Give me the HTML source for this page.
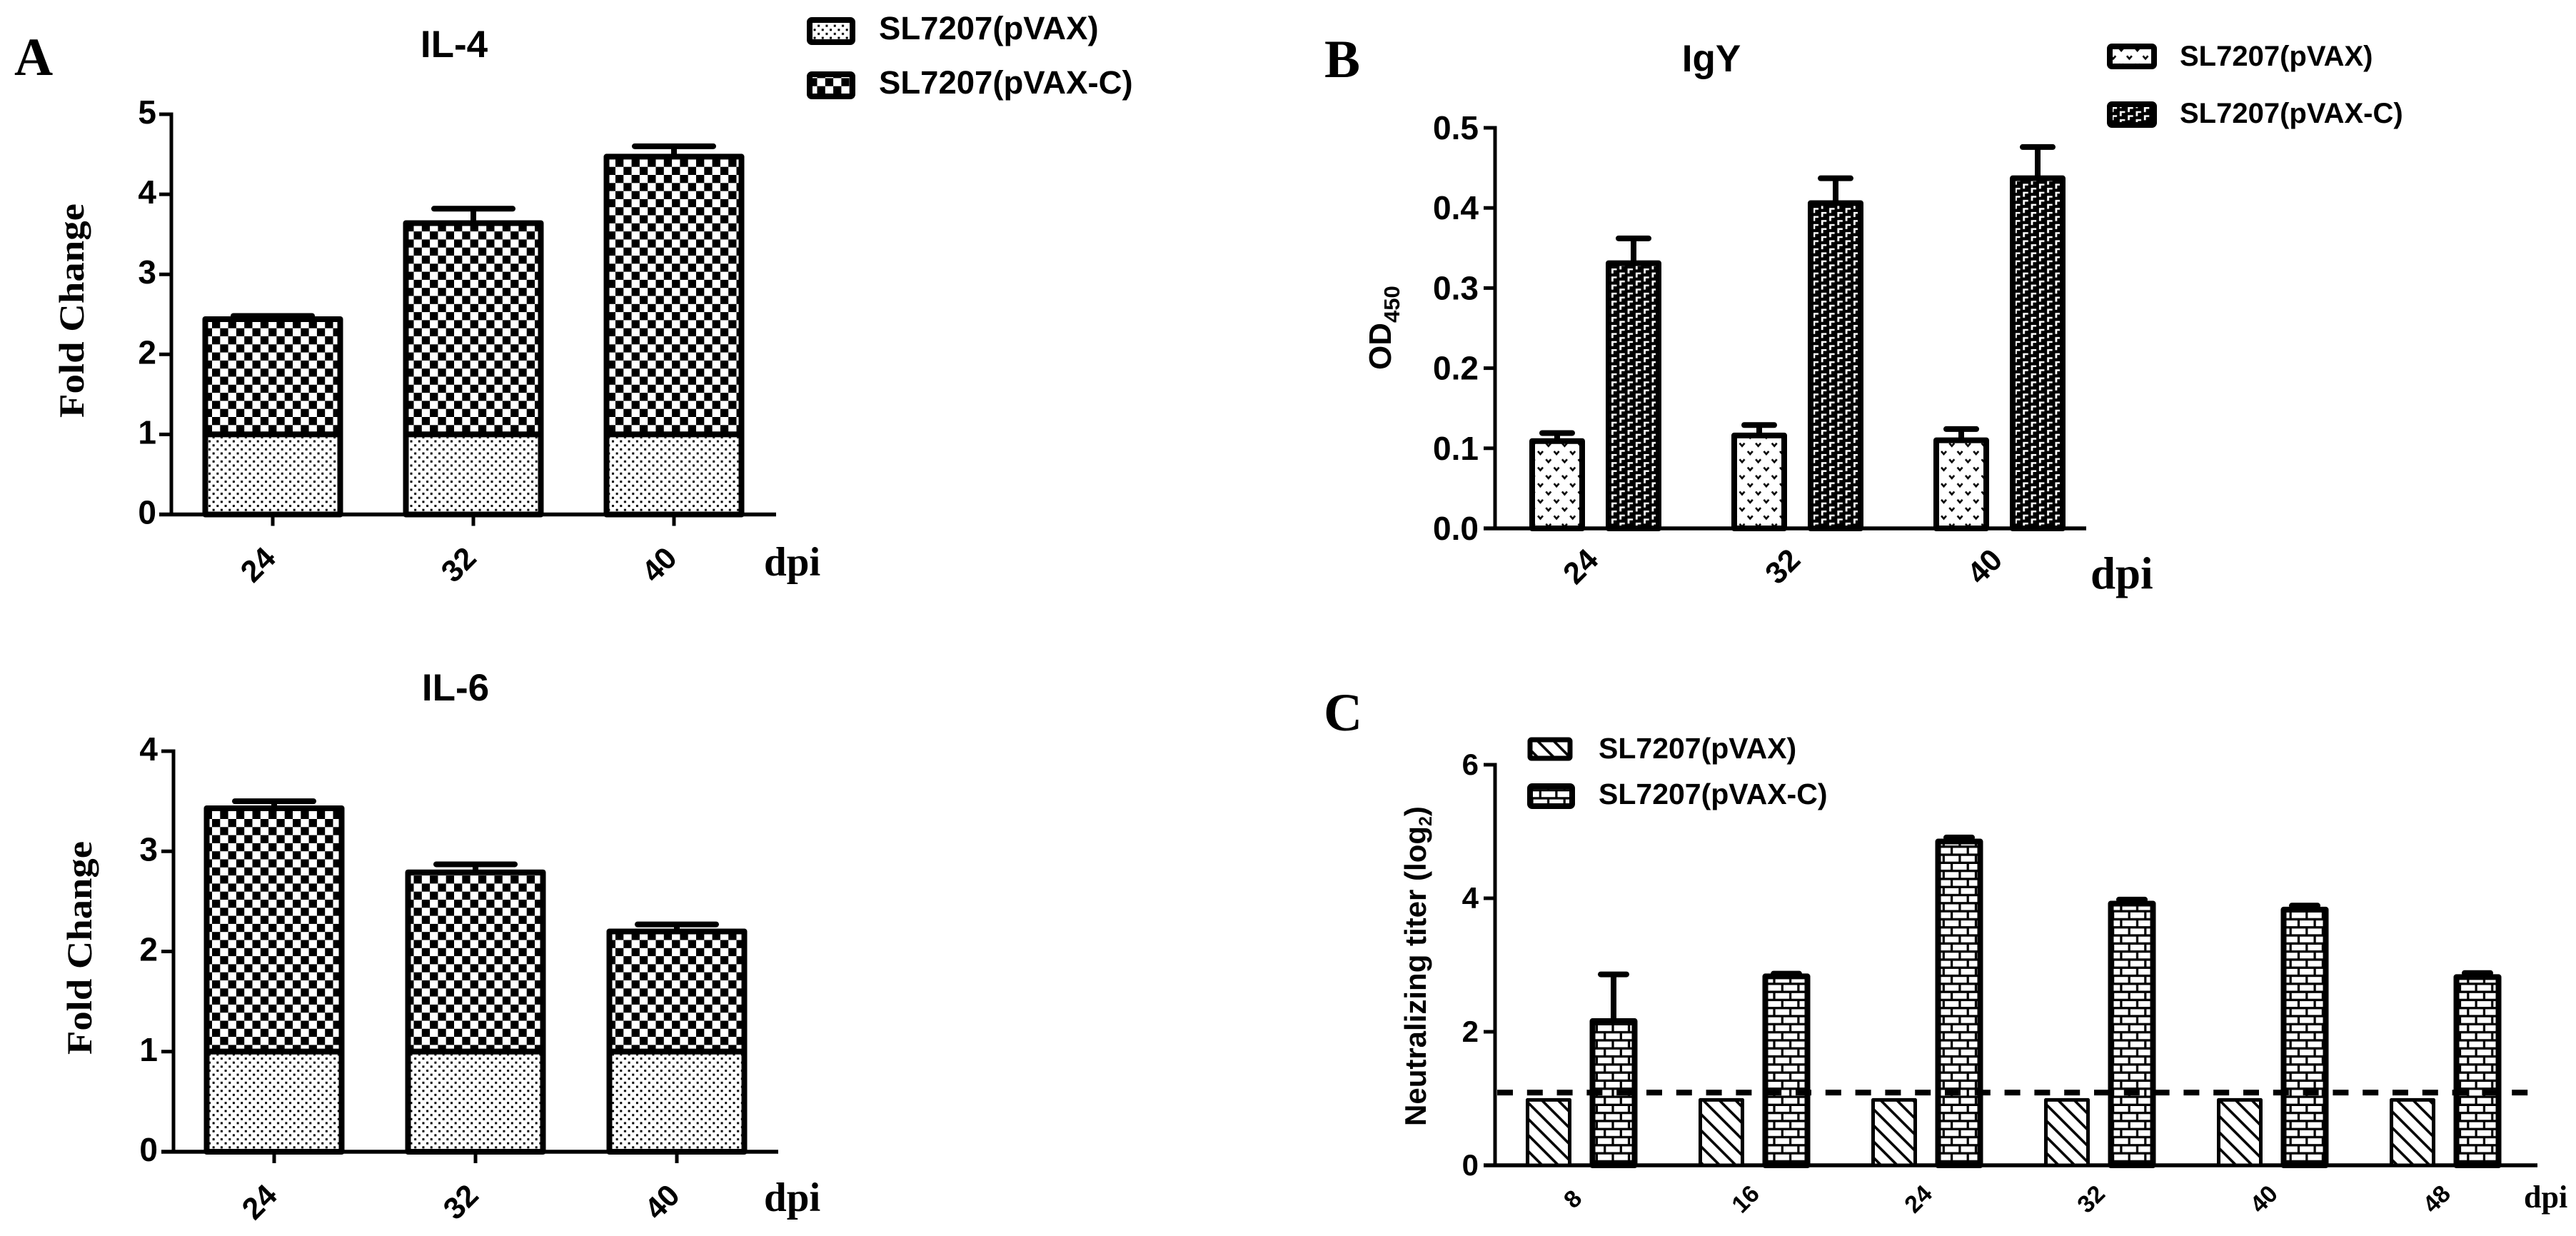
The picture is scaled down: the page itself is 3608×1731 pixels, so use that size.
<!DOCTYPE html>
<html lang="en">
<head>
<meta charset="utf-8">
<title>IL-4, IL-6, IgY and neutralizing titer bar charts</title>
<style>
  html, body { margin: 0; padding: 0; background: #fff; }
  svg { display: block; }
  text { font-family: "Liberation Sans", sans-serif; font-weight: bold; fill: #000; }
  .serif { font-family: "Liberation Serif", serif; font-weight: bold; }
</style>
</head>
<body>
<svg id="figure" xmlns="http://www.w3.org/2000/svg" width="3608" height="1731" viewBox="0 0 3608 1731">
  <defs>
    <pattern id="dots" patternUnits="userSpaceOnUse" width="11.3" height="11.3" patternTransform="translate(291 480)">
      <rect width="11.3" height="11.3" fill="#fff"/>
      <rect x="1" y="1" width="3" height="3" fill="#000"/>
      <rect x="6.65" y="6.65" width="3" height="3" fill="#000"/>
    </pattern>
    <pattern id="checker-a1" patternUnits="userSpaceOnUse" width="22.6" height="22.6" patternTransform="translate(297 471)">
      <rect width="22.6" height="22.6" fill="#fff"/>
      <rect width="11.3" height="11.3" fill="#000"/>
      <rect x="11.3" y="11.3" width="11.3" height="11.3" fill="#000"/>
    </pattern>
    <pattern id="checker-a2" patternUnits="userSpaceOnUse" width="22.6" height="22.6" patternTransform="translate(297 1147)">
      <rect width="22.6" height="22.6" fill="#fff"/>
      <rect width="11.3" height="11.3" fill="#000"/>
      <rect x="11.3" y="11.3" width="11.3" height="11.3" fill="#000"/>
    </pattern>
    <pattern id="vees" patternUnits="userSpaceOnUse" width="22.6" height="22.6" patternTransform="translate(2153 631)">
      <rect width="22.6" height="22.6" fill="#fff"/>
      <path d="M1 1 L4.5 5 L8 1" fill="none" stroke="#000" stroke-width="2.6"/>
      <path d="M12.3 12.3 L15.8 16.3 L19.3 12.3" fill="none" stroke="#000" stroke-width="2.6"/>
    </pattern>
    <pattern id="corners" patternUnits="userSpaceOnUse" width="22.6" height="11.3" patternTransform="translate(2257 376)">
      <rect width="22.6" height="11.3" fill="#000"/>
      <path d="M0 0 H7.5 V2.5 H2.8 V7 H0 Z" fill="#fff"/>
      <path d="M11.3 5.65 H18.8 V8.15 H14.1 V12.65 H11.3 Z" fill="#fff"/>
      <path d="M11.3 -5.65 H18.8 V-3.15 H14.1 V1.35 H11.3 Z" fill="#fff"/>
    </pattern>
    <pattern id="stripes" patternUnits="userSpaceOnUse" width="22.6" height="22.6" patternTransform="translate(2142 1546)">
      <rect width="22.6" height="22.6" fill="#fff"/>
      <path d="M-4 -4 L26.6 26.6 M-4 18.6 L4 26.6 M18.6 -4 L26.6 4" fill="none" stroke="#000" stroke-width="3.6"/>
    </pattern>
    <pattern id="bricks" patternUnits="userSpaceOnUse" width="22.6" height="22.6" patternTransform="translate(2238 1436)">
      <rect width="22.6" height="22.6" fill="#000"/>
      <rect width="19.4" height="8" fill="#fff"/>
      <rect x="11.3" y="11.3" width="11.3" height="8" fill="#fff"/>
      <rect x="0" y="11.3" width="8.1" height="8" fill="#fff"/>
    </pattern>
  </defs>

  <rect width="3608" height="1731" fill="#fff"/>

  <text class="serif" x="20" y="105" font-size="75">A</text>
  <text class="serif" x="1855" y="108" font-size="75">B</text>
  <text class="serif" x="1854" y="1023" font-size="75">C</text>

  <text x="636" y="80" font-size="53" text-anchor="middle">IL-4</text>
  <text x="638" y="981" font-size="53" text-anchor="middle">IL-6</text>
  <text x="2397" y="100" font-size="53" text-anchor="middle">IgY</text>

  <text class="serif" transform="translate(117 585) rotate(-90)" font-size="50" textLength="300" lengthAdjust="spacingAndGlyphs">Fold Change</text>
  <text class="serif" transform="translate(128 1477) rotate(-90)" font-size="50" textLength="299" lengthAdjust="spacingAndGlyphs">Fold Change</text>
  <text transform="translate(1948 518) rotate(-90)" font-size="44">OD<tspan font-size="31" dy="12">450</tspan></text>
  <text transform="translate(1997 1577) rotate(-90)" font-size="42">Neutralizing titer (log<tspan font-size="25" dy="8">2</tspan><tspan dy="-8">)</tspan></text>

  <g>
    <rect x="1134" y="28" width="60" height="31" rx="3" fill="url(#dots)" stroke="#000" stroke-width="8" stroke-linejoin="round"/>
    <text x="1231" y="55" font-size="45.5">SL7207(pVAX)</text>
    <rect x="1134" y="104" width="60" height="31" rx="3" fill="url(#checker-a1)" stroke="#000" stroke-width="8" stroke-linejoin="round"/>
    <text x="1231" y="131" font-size="45.5">SL7207(pVAX-C)</text>
  </g>
  <g>
    <rect x="2955" y="65" width="62" height="28" rx="3" fill="url(#vees)" stroke="#000" stroke-width="8" stroke-linejoin="round"/>
    <text x="3053" y="92" font-size="40">SL7207(pVAX)</text>
    <rect x="2955" y="146" width="62" height="29" rx="3" fill="url(#corners)" stroke="#000" stroke-width="8" stroke-linejoin="round"/>
    <text x="3053" y="172" font-size="40">SL7207(pVAX-C)</text>
  </g>
  <g>
    <rect x="2143" y="1036" width="56" height="26" rx="2" fill="url(#stripes)" stroke="#000" stroke-width="7" stroke-linejoin="round"/>
    <text x="2239" y="1062" font-size="41">SL7207(pVAX)</text>
    <rect x="2143" y="1101" width="59" height="28" rx="3" fill="url(#bricks)" stroke="#000" stroke-width="8" stroke-linejoin="round"/>
    <text x="2239" y="1126" font-size="41">SL7207(pVAX-C)</text>
  </g>

  <text class="serif" x="1070" y="806" font-size="57">dpi</text>
  <text class="serif" x="1070" y="1696" font-size="57">dpi</text>
  <text class="serif" x="2928" y="824" font-size="63">dpi</text>
  <text class="serif" x="3535" y="1691" font-size="44">dpi</text>
</svg>

<script>
// IL-4 (stacked)
const il4Categories = ['24', '32', '40'];
const il4Ticks = [0, 1, 2, 3, 4, 5];
const il4Pvax = [1, 1, 1];
const il4PvaxC = [1.44, 2.64, 3.47];
const il4Error = [0.04, 0.18, 0.13];

// IL-6 (stacked)
const il6Categories = ['24', '32', '40'];
const il6Ticks = [0, 1, 2, 3, 4];
const il6Pvax = [1, 1, 1];
const il6PvaxC = [2.43, 1.79, 1.2];
const il6Error = [0.07, 0.08, 0.07];

// IgY (grouped)
const igyCategories = ['24', '32', '40'];
const igyTicks = ['0.0', '0.1', '0.2', '0.3', '0.4', '0.5'];
const igyPvax = [0.109, 0.116, 0.110];
const igyPvaxError = [0.010, 0.013, 0.014];
const igyPvaxC = [0.331, 0.406, 0.437];
const igyPvaxCError = [0.031, 0.031, 0.039];

// Neutralizing titer (grouped)
const titerCategories = ['8', '16', '24', '32', '40', '48'];
const titerTicks = [0, 2, 4, 6];
const titerPvax = [0.98, 0.98, 0.98, 0.98, 0.98, 0.98];
const titerPvaxError = [0, 0, 0, 0, 0, 0];
const titerPvaxC = [2.16, 2.83, 4.85, 3.92, 3.83, 2.82];
const titerPvaxCError = [0.70, 0.04, 0.06, 0.06, 0.06, 0.06];
const titerThreshold = [1.09];

const SVG_NS = 'http://www.w3.org/2000/svg';
const figure = document.getElementById('figure');

function make(parent, tag, attrs) {
  const node = document.createElementNS(SVG_NS, tag);
  for (const key in attrs) node.setAttribute(key, attrs[key]);
  parent.appendChild(node);
  return node;
}

function makeScales(cfg) {
  return {
    y: function (v) { return cfg.y0 - (v / cfg.yMax) * (cfg.y0 - cfg.yTop); },
    group: function (i) { return cfg.firstGroup + i * cfg.groupStep; }
  };
}

function drawBar(parent, cx, outerW, stroke, yBase, yTop, fill, seriesName) {
  const bar = make(parent, 'rect', {
    x: cx - outerW / 2 + stroke / 2,
    y: yTop,
    width: outerW - stroke,
    height: yBase - yTop,
    fill: fill,
    stroke: '#000',
    'stroke-width': stroke,
    'stroke-linejoin': 'round'
  });
  
  
  return bar;
}

function drawError(parent, cx, yFrom, yTo, capHalf) {
  const stem = make(parent, 'line', { x1: cx, x2: cx, y1: yFrom, y2: yTo, stroke: '#000', 'stroke-width': 8 });
  
  
  const cap = make(parent, 'line', { x1: cx - capHalf, x2: cx + capHalf, y1: yTo, y2: yTo, stroke: '#000', 'stroke-width': 8, 'stroke-linecap': 'round' });
  
  
}

function drawAxes(parent, cfg, scales) {
  const yAxis = make(parent, 'line', { x1: cfg.axisX, x2: cfg.axisX, y1: cfg.yTop - 2.5, y2: cfg.y0, stroke: '#000', 'stroke-width': 5 });
  
  

  const xAxis = make(parent, 'line', { x1: cfg.tickLeft, x2: cfg.xEnd, y1: cfg.y0, y2: cfg.y0, stroke: '#000', 'stroke-width': 5.5 });
  
  

  cfg.ticks.forEach(function (t) {
    const y = scales.y(Number(t));
    const tick = make(parent, 'line', { x1: cfg.tickLeft, x2: cfg.axisX, y1: y, y2: y, stroke: '#000', 'stroke-width': 5 });
    
    
    const label = make(parent, 'text', { x: cfg.tickLabelX, y: y + cfg.tickLabelDy, 'font-size': cfg.tickFont, 'text-anchor': 'end' });
    label.textContent = t;
    
    
  });

  cfg.categories.forEach(function (c, i) {
    const cx = scales.group(i);
    if (cfg.xTick) {
      const tick = make(parent, 'line', { x1: cx, x2: cx, y1: cfg.y0, y2: cfg.y0 + 16, stroke: '#000', 'stroke-width': 5 });
      
      
    }
    const lx = cx + cfg.labelDx;
    const ly = cfg.y0 + cfg.labelDy;
    const label = make(parent, 'text', { x: lx, y: ly, dy: '0.35em', 'font-size': cfg.labelFont, 'text-anchor': 'middle', transform: 'rotate(-45 ' + lx + ' ' + ly + ')' });
    label.textContent = c;
    
    
  });
}

function drawStacked(name, cfg, lower, upper, errors) {
  const g = make(figure, 'g', {});
  
  
  const scales = makeScales(cfg);
  drawAxes(g, cfg, scales);
  cfg.categories.forEach(function (c, i) {
    const cx = scales.group(i);
    const total = lower[i] + upper[i];
    drawError(g, cx, scales.y(total), scales.y(total + errors[i]), cfg.capHalf);
    drawBar(g, cx, cfg.barW, cfg.barStroke, scales.y(lower[i]), scales.y(total), cfg.upperFill, 'pvax-c-' + c);
    drawBar(g, cx, cfg.barW, cfg.barStroke, cfg.y0, scales.y(lower[i]), cfg.lowerFill, 'pvax-' + c);
  });
  return g;
}

function drawGrouped(name, cfg, seriesA, errorsA, seriesB, errorsB) {
  const g = make(figure, 'g', {});
  
  
  const scales = makeScales(cfg);
  drawAxes(g, cfg, scales);
  cfg.categories.forEach(function (c, i) {
    const cx = scales.group(i);
    const xa = cx - cfg.barOffset;
    const xb = cx + cfg.barOffset;
    if (errorsA[i] > 0) drawError(g, xa, scales.y(seriesA[i]), scales.y(seriesA[i] + errorsA[i]), cfg.capHalf);
    if (errorsB[i] > 0) drawError(g, xb, scales.y(seriesB[i]), scales.y(seriesB[i] + errorsB[i]), cfg.capHalf);
    drawBar(g, xa, cfg.barWA, cfg.strokeA, cfg.y0, scales.y(seriesA[i]), cfg.fillA, 'pvax-' + c);
    drawBar(g, xb, cfg.barWB, cfg.strokeB, cfg.y0, scales.y(seriesB[i]), cfg.fillB, 'pvax-c-' + c);
  });
  return g;
}

drawStacked('il4-chart', {
  categories: il4Categories, ticks: il4Ticks, yMax: 5,
  axisX: 240, y0: 720.5, yTop: 160, tickLeft: 223, xEnd: 1087,
  tickLabelX: 219, tickLabelDy: 13, tickFont: 46,
  firstGroup: 382, groupStep: 281, xTick: true, labelDx: -21, labelDy: 70, labelFont: 43,
  barW: 197, barStroke: 8, capHalf: 55,
  lowerFill: 'url(#dots)', upperFill: 'url(#checker-a1)'
}, il4Pvax, il4PvaxC, il4Error);

drawStacked('il6-chart', {
  categories: il6Categories, ticks: il6Ticks, yMax: 4,
  axisX: 243, y0: 1613, yTop: 1052, tickLeft: 226, xEnd: 1090,
  tickLabelX: 221, tickLabelDy: 13, tickFont: 46,
  firstGroup: 384, groupStep: 282, xTick: true, labelDx: -21, labelDy: 70, labelFont: 43,
  barW: 197, barStroke: 8, capHalf: 55,
  lowerFill: 'url(#dots)', upperFill: 'url(#checker-a2)'
}, il6Pvax, il6PvaxC, il6Error);

drawGrouped('igy-chart', {
  categories: igyCategories, ticks: igyTicks, yMax: 0.5,
  axisX: 2094, y0: 740, yTop: 179, tickLeft: 2078, xEnd: 2922,
  tickLabelX: 2071, tickLabelDy: 16, tickFont: 46,
  firstGroup: 2234.5, groupStep: 283, xTick: false, labelDx: -21, labelDy: 53, labelFont: 43,
  barOffset: 53.5, barWA: 78, barWB: 78, strokeA: 8, strokeB: 8, capHalf: 21,
  fillA: 'url(#vees)', fillB: 'url(#corners)'
}, igyPvax, igyPvaxError, igyPvaxC, igyPvaxCError);

const titerChart = drawGrouped('titer-chart', {
  categories: titerCategories, ticks: titerTicks, yMax: 6,
  axisX: 2094, y0: 1632, yTop: 1071, tickLeft: 2078, xEnd: 3554,
  tickLabelX: 2071, tickLabelDy: 14, tickFont: 42,
  firstGroup: 2214.5, groupStep: 242, xTick: false, labelDx: -12, labelDy: 47, labelFont: 34,
  barOffset: 45.5, barWA: 64, barWB: 67, strokeA: 5, strokeB: 8, capHalf: 18,
  fillA: 'url(#stripes)', fillB: 'url(#bricks)'
}, titerPvax, titerPvaxError, titerPvaxC, titerPvaxCError);

const thresholdY = 1632 - (titerThreshold[0] / 6) * (1632 - 1071);
const thresholdLine = make(titerChart, 'line', { x1: 2097, x2: 3552, y1: thresholdY, y2: thresholdY, stroke: '#000', 'stroke-width': 8, 'stroke-dasharray': '22 19.8' });


</script>
</body>
</html>
